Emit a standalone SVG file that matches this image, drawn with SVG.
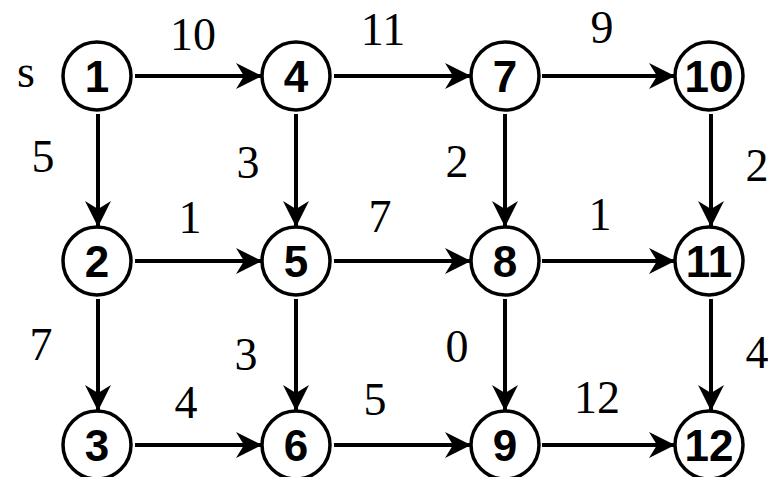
<svg xmlns="http://www.w3.org/2000/svg" width="768" height="477" viewBox="0 0 768 477">
<defs>
<style>
.node circle{fill:#fff;stroke:#000;stroke-width:3.5}
.node text{font-family:"Liberation Sans",Arial,sans-serif;font-weight:bold;font-size:44px;text-anchor:middle;fill:#000}
.edge{stroke:#000;stroke-width:4;fill:none;marker-end:url(#arr)}
.lbl{font-family:"Liberation Serif","Times New Roman",serif;font-size:46px;text-anchor:middle;fill:#000}
</style>
<marker id="arr" markerUnits="userSpaceOnUse" markerWidth="28" markerHeight="28" refX="26" refY="13" orient="auto">
<path d="M0,0 L26,13 L0,26 L8,13 Z" fill="#000"/>
</marker>
</defs>
<rect width="768" height="477" fill="#fff"/>
<g id="connectors">
<line class="edge" x1="135" y1="76" x2="262" y2="76"/>
<line class="edge" x1="334" y1="76" x2="471" y2="76"/>
<line class="edge" x1="542" y1="76" x2="675" y2="76"/>
<line class="edge" x1="135" y1="261" x2="262" y2="261"/>
<line class="edge" x1="334" y1="261" x2="471" y2="261"/>
<line class="edge" x1="542" y1="261" x2="675" y2="261"/>
<line class="edge" x1="135" y1="445" x2="262" y2="445"/>
<line class="edge" x1="334" y1="445" x2="471" y2="445"/>
<line class="edge" x1="542" y1="445" x2="675" y2="445"/>
<line class="edge" x1="98" y1="114" x2="98" y2="227"/>
<line class="edge" x1="296" y1="114" x2="296" y2="227"/>
<line class="edge" x1="505" y1="114" x2="505" y2="227"/>
<line class="edge" x1="711" y1="114" x2="711" y2="227"/>
<line class="edge" x1="98" y1="299" x2="98" y2="411"/>
<line class="edge" x1="296" y1="299" x2="296" y2="411"/>
<line class="edge" x1="505" y1="299" x2="505" y2="411"/>
<line class="edge" x1="711" y1="299" x2="711" y2="411"/>
</g>
<g id="labels">
<text class="lbl" x="26" y="87">s</text>
<text class="lbl" x="193" y="50">10</text>
<text class="lbl" x="383" y="45">11</text>
<text class="lbl" x="602" y="43">9</text>
<text class="lbl" x="43" y="172">5</text>
<text class="lbl" x="248" y="178">3</text>
<text class="lbl" x="457" y="177">2</text>
<text class="lbl" x="757" y="181">2</text>
<text class="lbl" x="190" y="233">1</text>
<text class="lbl" x="380" y="232">7</text>
<text class="lbl" x="600" y="230">1</text>
<text class="lbl" x="41" y="360">7</text>
<text class="lbl" x="246" y="370">3</text>
<text class="lbl" x="457" y="362">0</text>
<text class="lbl" x="757" y="368">4</text>
<text class="lbl" x="186" y="418">4</text>
<text class="lbl" x="375" y="415">5</text>
<text class="lbl" x="597" y="413">12</text>
</g>
<g id="n1" class="node"><circle cx="97" cy="76" r="34"/><text x="97" y="92">1</text></g>
<g id="n4" class="node"><circle cx="296" cy="76" r="34"/><text x="296" y="92">4</text></g>
<g id="n7" class="node"><circle cx="505" cy="76" r="34"/><text x="505" y="92">7</text></g>
<g id="n10" class="node"><circle cx="709" cy="76" r="34"/><text x="709" y="92">10</text></g>
<g id="n2" class="node"><circle cx="97" cy="261" r="34"/><text x="97" y="277">2</text></g>
<g id="n5" class="node"><circle cx="296" cy="261" r="34"/><text x="296" y="277">5</text></g>
<g id="n8" class="node"><circle cx="505" cy="261" r="34"/><text x="505" y="277">8</text></g>
<g id="n11" class="node"><circle cx="709" cy="261" r="34"/><text x="709" y="277">11</text></g>
<g id="n3" class="node"><circle cx="97" cy="445" r="34"/><text x="97" y="461">3</text></g>
<g id="n6" class="node"><circle cx="296" cy="445" r="34"/><text x="296" y="461">6</text></g>
<g id="n9" class="node"><circle cx="505" cy="445" r="34"/><text x="505" y="461">9</text></g>
<g id="n12" class="node"><circle cx="709" cy="445" r="34"/><text x="709" y="461">12</text></g>
</svg>
